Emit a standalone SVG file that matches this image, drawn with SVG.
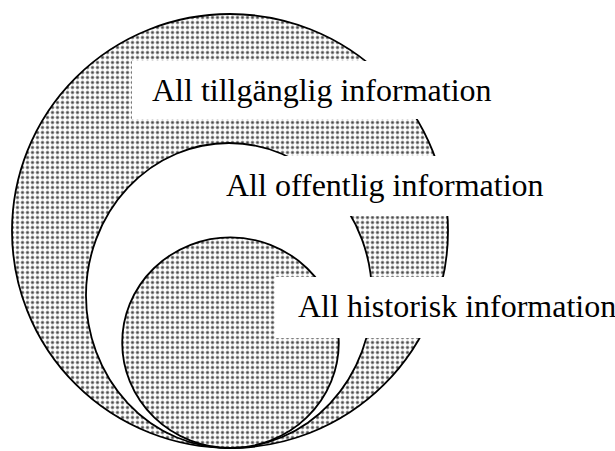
<svg xmlns="http://www.w3.org/2000/svg" width="615" height="451" viewBox="0 0 615 451">
  <defs>
    <!-- halftone dot screen used for the shaded sets -->
    <pattern id="dots" patternUnits="userSpaceOnUse" width="5" height="5">
      <rect width="5" height="5" fill="#ffffff"/>
      <circle cx="2.5" cy="2.5" r="1.9" fill="#a8a8a8"/>
      <circle cx="2.5" cy="2.5" r="1.1" fill="#4a4a4a"/>
    </pattern>
    <style>
      .set { stroke: #000; stroke-width: 1.8; }
      .shaded { fill: url(#dots); }
      .plain { fill: #fff; }
      .tag { fill: #fff; stroke: none; }
      .label { font-family: "Liberation Serif", "Times New Roman", serif; font-size: 32px; fill: #000; }
    </style>
  </defs>

  <!-- All available information -->
  <g id="set-tillganglig">
    <ellipse class="set shaded" cx="230" cy="231" rx="218" ry="217"/>
    <rect class="tag" x="132" y="61" width="380" height="58"/>
    <text class="label" x="152" y="101">All tillgänglig information</text>
  </g>

  <!-- All public information -->
  <g id="set-offentlig">
    <ellipse class="set plain" cx="229" cy="295.5" rx="143" ry="152.5"/>
    <rect class="tag" x="206" y="156" width="380" height="60"/>
    <text class="label" x="226" y="196">All offentlig information</text>
  </g>

  <!-- All historical information -->
  <g id="set-historisk">
    <ellipse class="set shaded" cx="230.5" cy="342.7" rx="108.3" ry="105.3"/>
    <rect class="tag" x="275" y="277" width="340" height="61"/>
    <text class="label" x="298" y="317">All historisk information</text>
  </g>
</svg>
